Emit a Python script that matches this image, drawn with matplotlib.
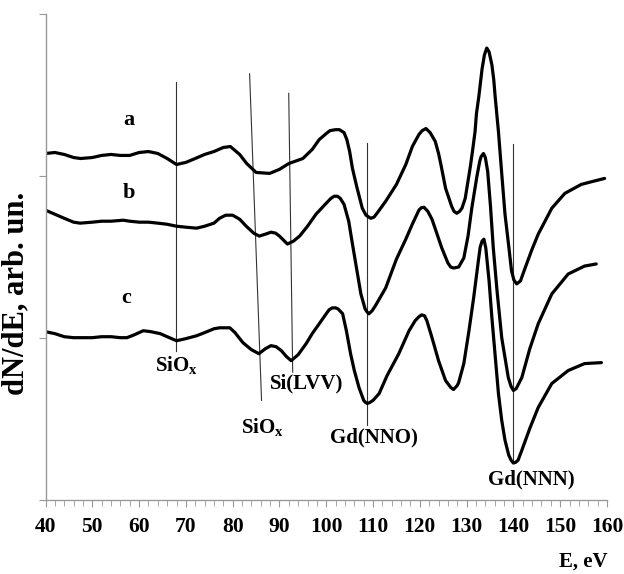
import matplotlib
matplotlib.use("Agg")
import matplotlib.pyplot as plt
from matplotlib.ticker import MultipleLocator, NullFormatter

# ---- data (energy in eV, dN/dE in arbitrary units) ----
E_a = [40, 42, 44, 46, 47.5, 50, 52, 54, 56, 58, 60, 62, 64, 66, 68, 70, 72, 74, 76, 78,
       79.5, 81.5, 83, 85, 87.9, 90, 92, 95, 97, 98.5, 100, 100.8, 102, 102.8, 103.8, 104.4,
       105, 105.6, 106.5, 107.7, 108.5, 109.5, 110.2, 111, 112.7, 115, 117, 118.4, 119.8,
       120.5, 121.3, 122.2, 123.3, 124, 124.5, 125.5, 126.8, 127.3, 127.9, 128.5, 129, 129.7,
       130.8, 131.3, 131.8, 132.1, 132.6, 133.3, 133.8, 134.3, 134.8, 135.4, 135.8, 136.1,
       136.8, 137.5, 138.2, 139, 139.6, 140.1, 140.7, 141.5, 142.5, 144, 145.3, 148.2, 151,
       154.5, 157, 159.5]
Y_a = [2.139, 2.145, 2.133, 2.114, 2.108, 2.114, 2.127, 2.133, 2.127, 2.127, 2.145, 2.151,
       2.139, 2.108, 2.071, 2.084, 2.108, 2.133, 2.151, 2.176, 2.182, 2.133, 2.077, 2.022,
       2.016, 2.041, 2.077, 2.108, 2.164, 2.225, 2.262, 2.280, 2.286, 2.286, 2.268, 2.225,
       2.151, 2.047, 1.936, 1.801, 1.758, 1.739, 1.746, 1.776, 1.844, 1.948, 2.071, 2.182,
       2.256, 2.280, 2.293, 2.268, 2.213, 2.139, 2.071, 1.924, 1.813, 1.782, 1.770, 1.782,
       1.801, 1.862, 2.059, 2.163, 2.274, 2.385, 2.489, 2.661, 2.747, 2.790, 2.766, 2.686,
       2.594, 2.489, 2.274, 2.016, 1.764, 1.567, 1.414, 1.358, 1.334, 1.352, 1.432, 1.549,
       1.641, 1.801, 1.893, 1.948, 1.967, 1.985]

E_b = [40, 42, 44, 46, 47.4, 50, 52, 54, 56.6, 58, 60, 62, 64, 66, 68, 70, 72.3, 74, 76,
       77.2, 78.5, 80, 81.5, 82.9, 84.5, 85.7, 87, 88.2, 89.2, 90, 91.7, 93, 94.3, 96, 97.8,
       100, 101, 101.7, 102.4, 103, 103.8, 104.8, 105.6, 106.5, 107.4, 108.3, 108.7, 109.1,
       109.8, 110.5, 112.7, 115, 117, 118.4, 119.8, 120.3, 120.9, 121.7, 122.6, 124.7, 126,
       126.6, 127.2, 128.3, 129.4, 130.3, 131.1, 132.2, 132.8, 133.1, 133.6, 134.0, 134.5,
       135.1, 135.7, 136.5, 137.5, 138.9, 139.5, 140, 140.6, 141.8, 143.5, 145.3, 148.2,
       151.7, 155.2, 157.7]
Y_b = [1.789, 1.764, 1.739, 1.715, 1.709, 1.715, 1.721, 1.721, 1.727, 1.721, 1.715, 1.715,
       1.709, 1.702, 1.690, 1.684, 1.678, 1.690, 1.709, 1.739, 1.758, 1.758, 1.733, 1.690,
       1.647, 1.629, 1.641, 1.653, 1.647, 1.629, 1.580, 1.598, 1.629, 1.690, 1.764, 1.832,
       1.862, 1.875, 1.875, 1.862, 1.825, 1.721, 1.580, 1.426, 1.272, 1.180, 1.162, 1.149,
       1.168, 1.199, 1.309, 1.487, 1.610, 1.703, 1.789, 1.804, 1.807, 1.782, 1.733, 1.555,
       1.463, 1.438, 1.432, 1.438, 1.494, 1.629, 1.801, 1.998, 2.090, 2.120, 2.139, 2.114,
       2.028, 1.813, 1.555, 1.291, 1.002, 0.756, 0.701, 0.676, 0.688, 0.756, 0.934, 1.088,
       1.272, 1.395, 1.444, 1.457]

E_c = [40, 42, 44, 46, 47.4, 50, 52, 54, 56, 57.4, 59, 60.9, 62.5, 64.5, 66, 68, 70, 72.3,
       74, 76, 77.2, 79.4, 80.5, 82.2, 84, 85.6, 87, 88.2, 89.3, 90.4, 91.5, 92.5, 94, 95.7,
       97, 98.5, 100, 100.6, 101.3, 102, 102.5, 103.5, 104.3, 105.2, 106, 107, 108, 108.4,
       108.8, 109.3, 110, 111.3, 113, 115.5, 117.7, 119, 119.8, 120.4, 121, 121.5, 122.6, 124,
       125.5, 126.6, 127.2, 128, 128.3, 129.4, 130.5, 131.5, 132.5, 132.9, 133.3, 133.7,
       134.1, 134.8, 135.4, 136.1, 136.8, 137.5, 138.2, 139, 139.5, 140, 140.5, 141, 141.8,
       143.5, 145.3, 148.2, 151.7, 155.2, 158.8]
Y_c = [1.039, 1.027, 1.008, 1.002, 1.002, 1.002, 1.008, 1.008, 1.002, 1.002, 1.020, 1.045,
       1.039, 1.027, 1.008, 0.983, 0.996, 1.014, 1.033, 1.057, 1.063, 1.063, 1.033, 0.971,
       0.928, 0.903, 0.934, 0.953, 0.946, 0.922, 0.885, 0.860, 0.897, 0.965, 1.027, 1.088,
       1.150, 1.174, 1.186, 1.186, 1.180, 1.150, 1.045, 0.903, 0.799, 0.694, 0.615, 0.602,
       0.596, 0.602, 0.615, 0.657, 0.768, 0.903, 1.045, 1.107, 1.131, 1.143, 1.137, 1.107,
       1.002, 0.860, 0.737, 0.695, 0.682, 0.707, 0.725, 0.842, 1.045, 1.248, 1.475, 1.561,
       1.598, 1.610, 1.555, 1.352, 1.125, 0.891, 0.657, 0.492, 0.369, 0.277, 0.246, 0.228,
       0.233, 0.246, 0.307, 0.442, 0.571, 0.719, 0.799, 0.842, 0.848]

curve_labels = ["a", "b", "c"]
label_pos_E = [57.9, 57.9, 57.2]
label_pos_Y = [2.348, 1.893, 1.248]

# marker lines: (E_top, Y_top) -> (E_bottom, Y_bottom)
marker_E_top = [67.87, 83.62, 91.98, 108.79, 140.0]
marker_Y_top = [2.581, 2.631, 2.510, 2.202, 2.196]
marker_E_bot = [67.87, 86.17, 92.83, 108.79, 140.0]
marker_Y_bot = [0.922, 0.615, 0.789, 0.461, 0.246]

peak_names = ["SiO$_\\mathregular{x}$", "SiO$_\\mathregular{x}$", "Si(LVV)", "Gd(NNO)", "Gd(NNN)"]
peak_E = [68.1, 86.4, 95.7, 110.2, 143.9]
peak_Y = [0.836, 0.449, 0.719, 0.387, 0.127]

x_ticks = list(range(40, 161, 10))

# ---- plot ----
plt.rcParams['font.family'] = ['Liberation Serif', 'DejaVu Serif']
plt.rcParams['font.weight'] = 'bold'
plt.rcParams['mathtext.fontset'] = 'custom'
plt.rcParams['mathtext.rm'] = 'Liberation Serif:bold'
plt.rcParams['mathtext.it'] = 'Liberation Serif:bold'
plt.rcParams['mathtext.bf'] = 'Liberation Serif:bold'

fig = plt.figure(figsize=(6.24, 5.74), dpi=100)
ax = fig.add_axes([45.5 / 624, 74 / 574, 561.5 / 624, 486 / 574])

for ex, ey, ex2, ey2 in zip(marker_E_top, marker_Y_top, marker_E_bot, marker_Y_bot):
    ax.plot([ex, ex2], [ey, ey2], color='#333333', lw=0.8, zorder=1)

for E, Y in ((E_a, Y_a), (E_b, Y_b), (E_c, Y_c)):
    ax.plot(E, Y, color='black', lw=2.3, solid_joinstyle='round', solid_capstyle='round', zorder=2)

for t, xe, ye in zip(curve_labels, label_pos_E, label_pos_Y):
    ax.text(xe, ye, t, ha='center', va='center', fontsize=16, fontweight='bold')

for t, xe, ye in zip(peak_names, peak_E, peak_Y):
    ax.text(xe, ye, t, ha='center', va='center', fontsize=15, fontweight='bold')

ax.set_xlim(40, 160)
ax.set_ylim(0, 3)
ax.set_xticks(x_ticks)
ax.xaxis.set_minor_locator(MultipleLocator(2))
ax.set_yticks([0, 1, 2, 3])
ax.yaxis.set_major_formatter(NullFormatter())
for s in ['top', 'right']:
    ax.spines[s].set_visible(False)
for s in ['left', 'bottom']:
    ax.spines[s].set_color('#999999')
    ax.spines[s].set_linewidth(1.0)
ax.tick_params(axis='both', which='both', color='#999999', direction='out')
ax.tick_params(axis='x', which='major', length=5, labelsize=15.5, pad=7)
ax.tick_params(axis='x', which='minor', length=4)
ax.tick_params(axis='y', which='major', length=5)
for lab in ax.get_xticklabels():
    lab.set_fontweight('bold')

fig.text(583 / 624, 1 - 562 / 574, "E, eV", ha='center', va='center', fontsize=15, fontweight='bold')
fig.text(16 / 624, 1 - 293 / 574, "dN/dE, arb. un.", ha='center', va='center', rotation=90,
         fontsize=22, fontweight='bold')

fig.savefig("out.png", dpi=100)
